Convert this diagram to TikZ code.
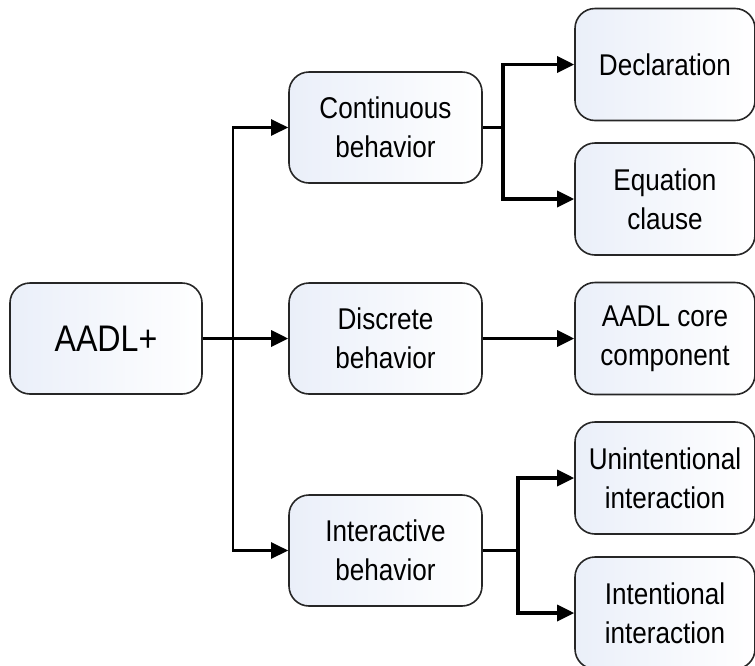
\documentclass[tikz,border=0pt]{standalone}
\usepackage{fontspec}
\setmainfont{Liberation Sans}[FakeStretch=0.87]
\usetikzlibrary{arrows.meta}
\definecolor{boxtint}{RGB}{234,239,249}
\begin{document}
\begin{tikzpicture}[x=1pt,y=-1pt,
  box/.style={draw=black!85, line width=1.6pt, rounded corners=20pt,
    left color=boxtint, right color=white, align=center,
    font=\fontsize{30pt}{39pt}\selectfont, inner sep=0pt},
  mid/.style={box, minimum width=193pt, minimum height=111pt},
  rgt/.style={box, minimum width=180pt, minimum height=112pt},
  conn/.style={line width=3.4pt, -{Triangle[length=17pt,width=16pt]}},
  plain/.style={line width=3.4pt}
]
\useasboundingbox (0,0) rectangle (755,665);
\node[box, minimum width=192pt, minimum height=111pt, font=\fontsize{37pt}{44pt}\selectfont] (aadl) at (106,338.5) {AADL+};
\node[mid] (cont) at (385.5,127.5) {Continuous\\behavior};
\node[mid] (disc) at (385.5,338.5) {Discrete\\behavior};
\node[mid] (inter) at (385.5,550.5) {Interactive\\behavior};
\node[rgt] (decl) at (665,64.5) {Declaration};
\node[rgt] (eq) at (665,199) {Equation\\clause};
\node[rgt] (core) at (665,338.5) {AADL core\\component};
\node[rgt] (unint) at (665,478) {Unintentional\\interaction};
\node[rgt] (intl) at (665,613) {Intentional\\interaction};
\coordinate (j1) at (233,338.5);
\coordinate (j2) at (503,127.5);
\coordinate (j3) at (518,550.5);
\draw[conn] (aadl.east) -- (disc.west);
\draw[conn, line width=2.4pt] (j1) |- (cont.west);
\draw[conn, line width=2.4pt] (j1) |- (inter.west);
\draw[plain] (cont.east) -- (j2);
\draw[conn] (j2) |- (decl.west);
\draw[conn] (j2) |- (eq.west);
\draw[conn] (disc.east) -- (core.west);
\draw[plain, line width=2.4pt] (inter.east) -- (j3);
\draw[conn] (j3) |- (unint.west);
\draw[conn] (j3) |- (intl.west);
\end{tikzpicture}
\end{document}
